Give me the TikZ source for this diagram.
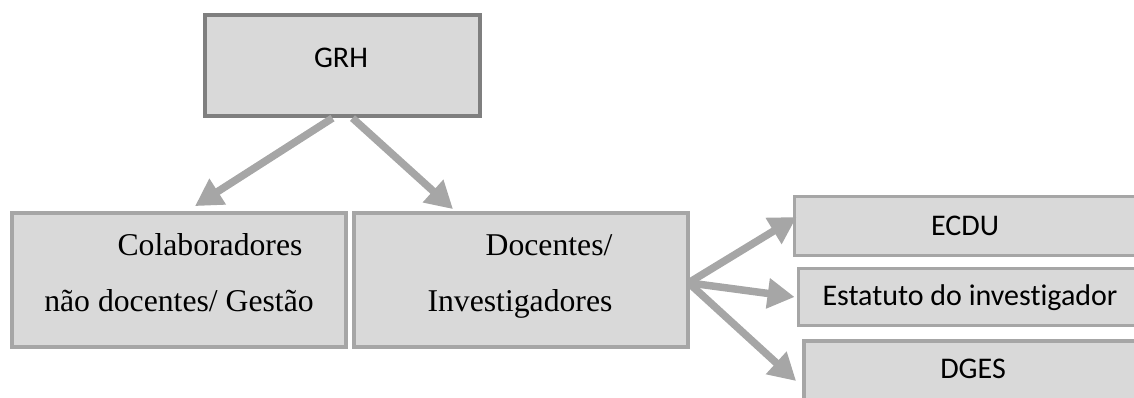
\documentclass[tikz,border=0pt]{standalone}
\usepackage{fontspec}
\setmainfont{Liberation Serif}
\newfontfamily\calfont[Ligatures={NoCommon,NoRare}]{Carlito}
\usetikzlibrary{arrows.meta}
\definecolor{boxfill}{HTML}{D9D9D9}
\definecolor{darkline}{HTML}{7F7F7F}
\definecolor{lightline}{HTML}{A6A6A6}
\tikzset{
  box/.style={draw=lightline, line width=3.8pt, fill=boxfill, rectangle, inner sep=0pt},
  topbox/.style={box, draw=darkline, line width=4.2pt},
  arr/.style={draw=lightline, line width=7.5pt, -{Triangle[length=27pt,width=29pt]}},
  serif/.style={font=\fontsize{31.7}{38}\selectfont, anchor=base, inner sep=0pt},
  sans/.style={font=\calfont\fontsize{30}{36}\selectfont, anchor=base, inner sep=0pt},
}
\begin{document}
\begin{tikzpicture}[x=1pt,y=-1pt]
\useasboundingbox (0,0) rectangle (1134,398);
\clip (0,0) rectangle (1134,398);
% boxes
\node[topbox, minimum width=275pt, minimum height=101pt] (grh) at (342.5,65.5) {};
\node[box, minimum width=334pt, minimum height=134pt] (colab) at (179,280) {};
\node[box, minimum width=334pt, minimum height=134pt] (doc) at (521,280) {};
\node[box, minimum width=344pt, minimum height=59pt] (ecdu) at (966.5,226) {};
\node[box, minimum width=343pt, minimum height=57pt] (est) at (970,297) {};
\node[box, minimum width=340pt, minimum height=62pt] (dges) at (974,372) {};
% texts
\node[sans] (tgrh) at (341,68) {GRH};
\node[serif] (tcol1) at (210,255) {Colaboradores};
\node[serif] (tcol2) at (179,311) {não docentes/ Gestão};
\node[serif] (tdoc1) at (549,255) {Docentes/};
\node[serif] (tdoc2) at (520,311) {Investigadores};
\node[sans] (tecdu) at (965,235) {ECDU};
\node[sans] (test) at (970,305) {Estatuto do investigador};
\node[sans] (tdges) at (973,378) {DGES};
% arrows
\draw[arr] ([xshift=-10pt]grh.south) -- ([xshift=16pt,yshift=5pt]colab.north);
\draw[arr] ([xshift=10pt]grh.south) -- ([xshift=-68pt,yshift=2pt]doc.north);
\draw[arr] ([yshift=-2pt]doc.east) -- ([xshift=4pt,yshift=9pt]ecdu.west);
\draw[arr] ([yshift=-3pt]doc.east) -- ([xshift=-2pt]est.west);
\draw[arr] ([yshift=-4pt]doc.east) -- ([xshift=-6pt,yshift=-9pt]dges.west);
\end{tikzpicture}
\end{document}
